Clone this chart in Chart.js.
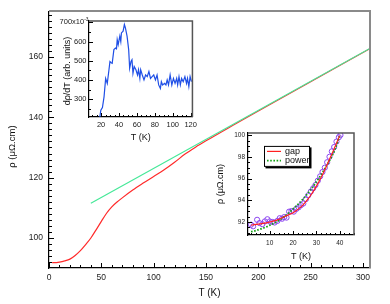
<!DOCTYPE html>
<html>
<head>
<meta charset="utf-8">
<script src="https://cdn.jsdelivr.net/npm/chart.js@4.4.1/dist/chart.umd.min.js"></script>
<style>
  body { margin: 0; background: #fff; }
  #wrap { position: relative; width: 390px; height: 304px; }
  canvas { position: absolute; }
</style>
</head>
<body>
<div id="wrap">
  <canvas id="mainChart" width="390" height="304" style="left:0;top:0"></canvas>
  <canvas id="derivChart" width="145" height="135" style="left:55px;top:14px"></canvas>
  <canvas id="lowChart" width="148" height="138" style="left:212px;top:126px"></canvas>
</div>
<script>
// ---- main panel: resistivity vs temperature ----
const mainT   = [3, 5, 10, 15, 20, 25, 30, 35, 40, 45, 50, 55, 60, 65, 70, 80, 90, 100, 110, 120, 130, 140, 150, 175, 200, 250, 307];
const mainRho = [91.8, 91.8, 92.0, 92.4, 93.0, 94.2, 95.8, 97.8, 100.0, 102.7, 105.5, 108.2, 110.3, 111.9, 113.3, 115.9, 118.2, 120.4, 122.6, 125.1, 127.8, 130.1, 132.2, 137.2, 142.1, 151.8, 162.8];
const fitT    = [40, 307];
const fitRho  = [111.5, 162.9];
const mainXTicks = [0, 50, 100, 150, 200, 250, 300];
const mainYTicks = [100, 120, 140, 160];

// ---- upper inset: d(rho)/dT ----
const derivT = [18.6, 19.7, 21.5, 23.3, 25.1, 26.9, 28.8, 29.9, 31.2, 32.4, 34.3, 36.1, 37.2, 38.0, 39.1, 40.9, 42.0, 42.7, 44.6, 46.0, 47.1, 49.0, 50.8, 51.9, 53.4, 54.5, 55.6, 57.0, 58.9, 60.7, 61.8, 63.3, 64.2, 66.0, 67.9, 69.7, 71.5, 73.4, 75.2, 77.0, 78.8, 80.7, 82.5, 84.3, 86.2, 87.3, 88.7, 90.9, 92.4, 93.8, 95.3, 97.1, 99.0, 100.8, 102.6, 104.4, 105.5, 107.0, 108.5, 109.9, 111.7, 113.6, 115.4, 116.5, 118.0, 119.4, 120.9];
const derivVal = [207, 242, 256, 312, 408, 382, 453, 496, 490, 487, 558, 566, 562, 610, 584, 628, 600, 645, 654, 689, 672, 628, 558, 461, 496, 505, 435, 470, 453, 426, 453, 408, 453, 426, 400, 426, 417, 444, 408, 417, 426, 400, 426, 374, 356, 391, 374, 382, 374, 400, 374, 426, 374, 408, 382, 408, 374, 417, 374, 408, 391, 417, 382, 408, 365, 417, 391];
const derivXTicks = [20, 40, 60, 80, 100, 120];
const derivYTicks = [300, 400, 500, 600, 700];

// ---- lower inset: low-T data with fits ----
const lowT   = [2.0, 2.9, 4.6, 5.6, 6.8, 7.9, 9.0, 10.0, 11.1, 12.1, 13.3, 14.3, 15.3, 16.2, 17.2, 18.3, 19.3, 20.3, 21.4, 22.4, 23.4, 24.4, 25.5, 26.5, 27.6, 28.6, 29.6, 30.6, 31.6, 32.6, 33.6, 34.6, 35.6, 36.6, 37.6, 38.6, 39.6, 40.3];
const lowRho = [91.75, 91.6, 92.2, 91.9, 91.8, 92.05, 92.25, 92.05, 92.0, 91.95, 92.1, 92.35, 92.3, 92.45, 92.4, 92.95, 93.0, 92.95, 93.2, 93.35, 93.55, 93.7, 94.1, 94.45, 94.8, 95.1, 95.4, 95.8, 96.2, 96.6, 97.0, 97.5, 98.0, 98.5, 98.9, 99.4, 99.8, 100.0];
const gapT   = [2, 5, 8, 10, 12, 14, 16, 18, 20, 22, 24, 26, 28, 30, 32, 34, 36, 38, 40];
const gapRho = [91.7, 91.8, 91.9, 92.0, 92.1, 92.25, 92.45, 92.65, 92.85, 93.15, 93.5, 94.0, 94.6, 95.3, 96.1, 97.0, 97.95, 98.95, 99.95];
const powT   = [2, 4, 6, 8, 10, 12, 14, 16, 18, 20, 22, 24, 26, 28, 30, 32, 34, 36, 38, 40];
const powRho = [91.1, 91.2, 91.35, 91.5, 91.7, 91.9, 92.15, 92.45, 92.8, 93.2, 93.6, 94.05, 94.55, 95.1, 95.7, 96.35, 97.05, 97.8, 98.7, 99.95];
const lowXTicks = [10, 20, 30, 40];
const lowYTicks = [92, 94, 96, 98, 100];

const FONT = 'Liberation Sans, Arial, Helvetica, sans-serif';

function pts(xs, ys) {
    return xs.map((x, i) => ({ x: x, y: ys[i] }));
}

// inward tick marks + grey top/right frame, drawn from the chart's scales
const frameTicks = {
    id: 'frameTicks',
    afterDatasetsDraw(chart, args, opts) {
        const ctx = chart.ctx;
        const a = chart.chartArea;
        ctx.save();
        ctx.strokeStyle = '#000';
        ctx.lineWidth = 1;
        ['x', 'y'].forEach(id => {
            const s = chart.scales[id];
            const o = opts[id];
            const first = Math.ceil(s.min / o.minor - 1e-6);
            const last = Math.floor(s.max / o.minor + 1e-6);
            for (let i = first; i <= last; i++) {
                const v = i * o.minor;
                const r = v / o.major;
                const len = Math.abs(r - Math.round(r)) < 1e-6 ? o.majorLen : o.minorLen;
                const p = Math.round(s.getPixelForValue(v)) + 0.5;
                ctx.beginPath();
                if (id === 'x') { ctx.moveTo(p, a.bottom); ctx.lineTo(p, a.bottom - len); }
                else { ctx.moveTo(a.left, p); ctx.lineTo(a.left + len, p); }
                ctx.stroke();
            }
        });
        ctx.strokeStyle = opts.frameColor;
        ctx.lineWidth = opts.frameWidth;
        ctx.beginPath();
        ctx.moveTo(a.left, a.top);
        ctx.lineTo(a.right, a.top);
        ctx.lineTo(a.right, a.bottom);
        ctx.stroke();
        ctx.restore();
    }
};

// rotated y title (placed by hand so it can sit off-centre like the original)
const sideTitle = {
    id: 'sideTitle',
    afterDraw(chart, args, opts) {
        if (!opts.text) return;
        const ctx = chart.ctx;
        const a = chart.chartArea;
        ctx.save();
        ctx.translate(opts.x, (a.top + a.bottom) / 2 + opts.shift);
        ctx.rotate(-Math.PI / 2);
        ctx.font = opts.size + 'px ' + FONT;
        ctx.fillStyle = '#111';
        ctx.textAlign = 'center';
        ctx.textBaseline = 'middle';
        ctx.fillText(opts.text, 0, 0);
        ctx.restore();
    }
};

// y labels of the derivative inset, the top one written "700x10" with a raised "-3"
const yLabels = {
    id: 'yLabels',
    afterDraw(chart, args, opts) {
        if (!opts.exp) return;
        const ctx = chart.ctx;
        const s = chart.scales.y;
        const right = s.right - opts.pad;
        ctx.save();
        ctx.fillStyle = opts.color;
        ctx.textBaseline = 'middle';
        s.ticks.forEach((t, i) => {
            const y = s.getPixelForValue(t.value);
            ctx.font = opts.size + 'px ' + FONT;
            ctx.textAlign = 'right';
            if (i < s.ticks.length - 1) {
                ctx.fillText(String(t.value), right - 2, y);
                return;
            }
            const label = t.value + 'x10';
            ctx.font = (opts.size * 0.65) + 'px ' + FONT;
            const expW = ctx.measureText(opts.exp).width;
            ctx.textAlign = 'left';
            ctx.fillText(opts.exp, right - expW, y - 3);
            ctx.font = opts.size + 'px ' + FONT;
            ctx.textAlign = 'right';
            ctx.fillText(label, right - expW, y);
        });
        ctx.restore();
    }
};

// boxed legend with shadow inside the lower inset
const boxLegend = {
    id: 'boxLegend',
    afterDraw(chart, args, opts) {
        if (!opts.items) return;
        const ctx = chart.ctx;
        const a = chart.chartArea;
        const x = a.left + opts.dx, y = a.top + opts.dy;
        ctx.save();
        ctx.fillStyle = '#000';
        ctx.fillRect(x + 1.5, y + 1.5, opts.w, opts.h);
        ctx.fillStyle = '#fff';
        ctx.fillRect(x, y, opts.w, opts.h);
        ctx.strokeStyle = '#000';
        ctx.lineWidth = 1;
        ctx.strokeRect(x + 0.5, y + 0.5, opts.w - 1, opts.h - 1);
        ctx.font = '9px ' + FONT;
        ctx.textBaseline = 'middle';
        opts.items.forEach((it, i) => {
            const ly = y + 5.5 + i * 9.3;
            ctx.strokeStyle = it.color;
            ctx.lineWidth = it.width;
            ctx.setLineDash(it.dash || []);
            ctx.beginPath();
            ctx.moveTo(x + 3, ly);
            ctx.lineTo(x + 17, ly);
            ctx.stroke();
            ctx.setLineDash([]);
            ctx.fillStyle = '#111';
            ctx.fillText(it.label, x + 21, ly);
        });
        ctx.restore();
    }
};

function axis(cfg) {
    return {
        type: 'linear',
        min: cfg.min,
        max: cfg.max,
        afterBuildTicks: s => { s.ticks = cfg.ticks.map(v => ({ value: v })); },
        afterFit: s => { if (s.isHorizontal()) s.height = cfg.size; else s.width = cfg.size; },
        grid: { display: false, drawTicks: false },
        border: { display: true, color: '#000', width: 1.2 },
        ticks: {
            display: !cfg.ownLabels,
            font: { family: FONT, size: cfg.font },
            color: '#222',
            padding: cfg.pad,
            maxRotation: 0,
            autoSkip: false,
            callback: v => String(v)
        },
        title: cfg.title ? {
            display: true,
            text: cfg.title,
            color: '#111',
            font: { family: FONT, size: cfg.titleSize },
            padding: cfg.titlePad
        } : { display: false }
    };
}

function baseOptions(padding, scales, plugins) {
    return {
        responsive: false,
        animation: false,
        devicePixelRatio: 1,
        layout: { padding: padding },
        plugins: Object.assign({ legend: { display: false }, tooltip: { enabled: false } }, plugins),
        scales: scales
    };
}

function loadMainChart() {
    new Chart(document.getElementById('mainChart'), {
        type: 'scatter',
        data: {
            datasets: [
                { data: pts(fitT, fitRho), showLine: true, borderColor: '#45e898', borderWidth: 1.2, pointRadius: 0 },
                { data: pts(mainT, mainRho), showLine: true, borderColor: '#ff2a2a', borderWidth: 1.2,
                  pointRadius: 0, cubicInterpolationMode: 'monotone' }
            ]
        },
        options: baseOptions({ top: 11, right: 20, left: 0, bottom: 0 }, {
            x: axis({ min: 0, max: 306.7, ticks: mainXTicks, size: 36, font: 8.5, pad: 5,
                      title: 'T (K)', titleSize: 10, titlePad: { top: 2, bottom: 5 } }),
            y: axis({ min: 90.05, max: 175.2, ticks: mainYTicks, size: 49, font: 8.5, pad: 6 })
        }, {
            frameTicks: { x: { minor: 10, major: 50, minorLen: 3, majorLen: 5 },
                          y: { minor: 2, major: 20, minorLen: 3, majorLen: 5 },
                          frameColor: '#8a8a8a', frameWidth: 2 },
            sideTitle: { text: 'ρ (μΩ.cm)', x: 12, shift: 7, size: 9.5 }
        }),
        plugins: [frameTicks, sideTitle]
    });
}

function loadDerivInset() {
    new Chart(document.getElementById('derivChart'), {
        type: 'scatter',
        data: {
            datasets: [
                { data: pts(derivT, derivVal), showLine: true, borderColor: '#1f4fe6', borderWidth: 1.2, pointRadius: 0 }
            ]
        },
        options: baseOptions({ top: 7, right: 6, left: 0, bottom: 0 }, {
            x: axis({ min: 6.5, max: 122, ticks: derivXTicks, size: 32, font: 7.5, pad: 3,
                      title: 'T (K)', titleSize: 9, titlePad: { top: 2, bottom: 6 } }),
            y: axis({ min: 207, max: 707, ticks: derivYTicks, size: 34, font: 7.5, pad: 0.5, ownLabels: true })
        }, {
            frameTicks: { x: { minor: 5, major: 20, minorLen: 2, majorLen: 4 },
                          y: { minor: 50, major: 100, minorLen: 2, majorLen: 4 },
                          frameColor: '#555', frameWidth: 1.5 },
            sideTitle: { text: 'dρ/dT (arb. units)', x: 13, shift: 2, size: 9 },
            yLabels: { exp: '-3', size: 7.5, pad: 0.5, color: '#222' }
        }),
        plugins: [frameTicks, yLabels, sideTitle]
    });
}

function loadLowInset() {
    new Chart(document.getElementById('lowChart'), {
        type: 'scatter',
        data: {
            datasets: [
                { data: pts(gapT, gapRho), showLine: true, borderColor: '#ff2020', borderWidth: 1.2,
                  pointRadius: 0, cubicInterpolationMode: 'monotone' },
                { data: pts(powT, powRho), showLine: true, borderColor: '#14a014', borderWidth: 1.8,
                  borderDash: [1.6, 1.6], pointRadius: 0, cubicInterpolationMode: 'monotone' },
                { data: pts(lowT, lowRho), showLine: false, pointRadius: 2.6, pointBorderWidth: 1,
                  borderColor: '#8c45f0', backgroundColor: 'rgba(0,0,0,0)' }
            ]
        },
        options: baseOptions({ top: 6, right: 6, left: 0, bottom: 0 }, {
            x: axis({ min: 0.7, max: 46.1, ticks: lowXTicks, size: 29, font: 6.5, pad: 4,
                      title: 'T (K)', titleSize: 9, titlePad: { top: 2, bottom: 2 } }),
            y: axis({ min: 90.8, max: 100.2, ticks: lowYTicks, size: 36, font: 6.5, pad: 3,
                      title: 'ρ (μΩ.cm)', titleSize: 9, titlePad: { top: 3, bottom: 2 } })
        }, {
            frameTicks: { x: { minor: 2, major: 10, minorLen: 2, majorLen: 4 },
                          y: { minor: 0.5, major: 2, minorLen: 2, majorLen: 4 },
                          frameColor: '#555', frameWidth: 1.5 },
            boxLegend: { dx: 16, dy: 13, w: 46, h: 21, items: [
                { label: 'gap', color: '#ff2020', width: 1.2 },
                { label: 'power', color: '#14a014', width: 1.8, dash: [1.6, 1.6] }
            ] }
        }),
        plugins: [frameTicks, boxLegend]
    });
}

window.onload = () => {
    loadMainChart();
    loadDerivInset();
    loadLowInset();
};
</script>
</body>
</html>
